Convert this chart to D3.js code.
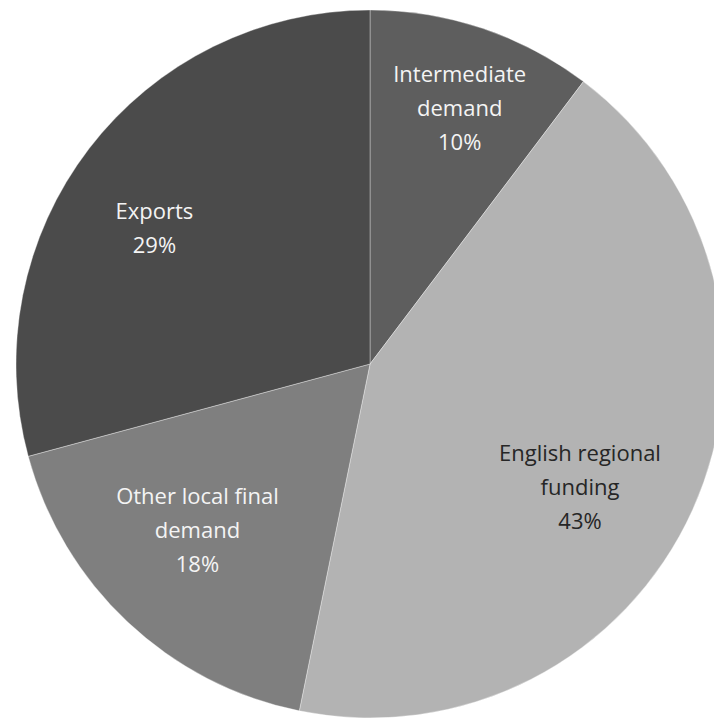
<!DOCTYPE html>
<html>
<head>
<meta charset="utf-8">
<script src="https://cdn.jsdelivr.net/npm/d3@7"></script>
<style>
html,body{margin:0;padding:0;background:#fff;}
svg{display:block;}
</style>
</head>
<body>
<svg id="chart" width="714" height="720"></svg>
<script>
// Data
const categories = ["Intermediate demand", "English regional funding", "Other local final demand", "Exports"];
const labelLines = [["Intermediate", "demand"], ["English regional", "funding"], ["Other local final", "demand"], ["Exports"]];
const values = [10.3, 42.9, 17.6, 29.2];
const percentLabels = ["10%", "43%", "18%", "29%"];

// Styles / layout (kept separate from data)
const colors = ["#5e5e5e", "#b3b3b3", "#7f7f7f", "#4b4b4b"];
const textColors = ["#f4f4f4", "#262626", "#f4f4f4", "#f4f4f4"];
const labelRadius = [0.77, 0.685, 0.675, 0.71];
const labelNudge = [[3, 3], [-11, 24], [-9, -7], [-16, 18]];

const cx = 370, cy = 364, R = 354;
const svg = d3.select("#chart");
const g = svg.append("g").attr("transform", `translate(${cx},${cy})`);

const pie = d3.pie().sort(null).value(d => d.v);
const data = categories.map((c, i) => ({c, v: values[i], i}));
const arcs = pie(data);
const arc = d3.arc().innerRadius(0).outerRadius(R);

g.selectAll("path.slice").data(arcs).enter().append("path")
  .attr("class", "slice")
  .attr("d", arc)
  .attr("fill", d => colors[d.data.i])
  .attr("stroke", "rgba(255,255,255,0.35)")
  .attr("stroke-width", 1);

const lineH = 34;
arcs.forEach(d => {
  const i = d.data.i;
  const lines = labelLines[i].concat([percentLabels[i]]);
  const mid = (d.startAngle + d.endAngle) / 2;
  const rr = R * labelRadius[i];
  const x = Math.sin(mid) * rr + labelNudge[i][0];
  const y = -Math.cos(mid) * rr + labelNudge[i][1];
  const t = g.append("text")
    .attr("text-anchor", "middle")
    .attr("font-family", "'Open Sans', 'Noto Sans', sans-serif")
    .attr("font-size", 22)
    .attr("fill", textColors[i]);
  const n = lines.length;
  lines.forEach((ln, k) => {
    t.append("tspan")
      .attr("x", x)
      .attr("y", y + (k - (n - 1) / 2) * lineH + 7)
      .text(ln);
  });
});
</script>
</body>
</html>
